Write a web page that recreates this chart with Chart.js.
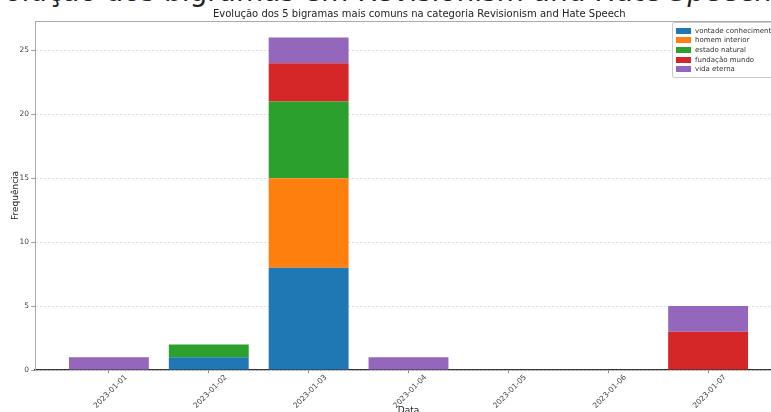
<!DOCTYPE html>
<html>
<head>
<meta charset="utf-8">
<script src="https://cdn.jsdelivr.net/npm/chart.js@4.4.1/dist/chart.umd.min.js"></script>
<style>
    body { margin: 0; width: 771px; height: 412px; overflow: hidden; position: relative; background: #fff; }
    #cabecera { position: absolute; left: -30px; top: -22px; font-family: "DejaVu Sans"; font-size: 28px; line-height: 28px; white-space: nowrap; color: #222; }
    #titulo { position: absolute; left: 213px; width: 400px; top: 8px; text-align: center; white-space: nowrap; font-family: "DejaVu Sans"; font-size: 10px; line-height: 12px; color: #222; }
    #marco { position: absolute; left: 0; top: 0; width: 826px; height: 418px; }
    #leyenda { position: absolute; left: 672px; top: 22px; width: 116px; padding: 3px 3px; border: 1px solid #ccc; border-radius: 2px; background: rgba(255,255,255,0.85); font-family: "DejaVu Sans"; font-size: 7px; color: #333; }
    .item { display: flex; align-items: center; height: 9.6px; white-space: nowrap; }
    .caja { width: 15px; height: 6px; margin-right: 4px; flex: none; }
</style>
</head>
<body>
<div id="cabecera">Evolução dos bigramas em Revisionism and Hate <i>Speech</i></div>
<div id="marco"><canvas id="grafico"></canvas></div>
<div id="titulo">Evolução dos 5 bigramas mais comuns na categoria Revisionism and Hate Speech</div>
<div id="leyenda"></div>
<script>
// Datos
const fechas = ["2023-01-01", "2023-01-02", "2023-01-03", "2023-01-04", "2023-01-05", "2023-01-06", "2023-01-07"];
const bigramas = ["vontade conhecimento", "homem interior", "estado natural", "fundação mundo", "vida eterna"];
const vontadeConhecimento = [0, 1, 8, 0, 0, 0, 0];
const homemInterior = [0, 0, 7, 0, 0, 0, 0];
const estadoNatural = [0, 1, 6, 0, 0, 0, 0];
const fundacaoMundo = [0, 0, 3, 0, 0, 0, 3];
const vidaEterna = [1, 0, 2, 1, 0, 0, 2];
const ticksY = [0, 5, 10, 15, 20, 25];

const series = [vontadeConhecimento, homemInterior, estadoNatural, fundacaoMundo, vidaEterna];
const colores = ["#1f77b4", "#ff7f0e", "#2ca02c", "#d62728", "#9467bd"];

Chart.defaults.font.family = "DejaVu Sans";
Chart.defaults.color = "#333";

// Línea superior del área del gráfico
const bordeSuperior = {
    id: "bordeSuperior",
    afterDraw(chart) {
        const { ctx, chartArea } = chart;
        ctx.save();
        ctx.strokeStyle = "#aaa";
        ctx.lineWidth = 1;
        ctx.beginPath();
        ctx.moveTo(chartArea.left, chartArea.top + 0.5);
        ctx.lineTo(chartArea.right, chartArea.top + 0.5);
        ctx.stroke();
        ctx.restore();
    }
};

new Chart(document.getElementById("grafico"), {
    type: "bar",
    data: {
        datasets: bigramas.map((nombre, i) => ({
            label: nombre,
            data: series[i].map((v, j) => ({ x: j, y: v })),
            backgroundColor: colores[i],
            borderWidth: 0,
            barPercentage: 0.8,
            categoryPercentage: 1
        }))
    },
    options: {
        responsive: true,
        maintainAspectRatio: false,
        animation: false,
        layout: { padding: { left: 0, right: 44, top: 21, bottom: 0 } },
        plugins: {
            legend: { display: false },
            tooltip: { enabled: false },
            title: { display: false }
        },
        scales: {
            x: {
                type: "linear",
                stacked: true,
                offset: false,
                min: -0.74,
                max: 6.74,
                afterBuildTicks: (scale) => { scale.ticks = fechas.map((f, i) => ({ value: i })); },
                afterFit: (scale) => { scale.height = 48; },
                ticks: {
                    callback: (v) => fechas[v],
                    font: { size: 7.5 },
                    color: "#444",
                    minRotation: 45,
                    maxRotation: 45,
                    labelOffset: 17,
                    padding: 0,
                    autoSkip: false
                },
                grid: { offset: false, drawOnChartArea: false, drawTicks: true, tickLength: 3, tickColor: "#888" },
                border: { color: "#333", width: 1.2 },
                title: { display: true, text: "Data", font: { size: 9 }, color: "#222", padding: { top: 0, bottom: 2 } }
            },
            y: {
                stacked: true,
                min: 0,
                max: 27.3,
                afterBuildTicks: (scale) => { scale.ticks = ticksY.map((v) => ({ value: v })); },
                afterFit: (scale) => { scale.width = 35; },
                ticks: { font: { size: 7.5 }, color: "#444", padding: 2 },
                grid: { color: "#d8d8d8", lineWidth: 0.8, tickLength: 4, tickColor: "#888", tickBorderDash: [] },
                border: { color: "#aaa", width: 1, dash: [2, 2] },
                title: { display: true, text: "Frequência", font: { size: 9 }, color: "#222", padding: { top: 10, bottom: 0 } }
            }
        }
    },
    plugins: [bordeSuperior]
});

// Leyenda
const leyenda = document.getElementById("leyenda");
bigramas.forEach((nombre, i) => {
    const fila = document.createElement("div");
    fila.className = "item";
    fila.innerHTML = `<span class="caja" style="background:${colores[i]}"></span><span>${nombre}</span>`;
    leyenda.appendChild(fila);
});
</script>
</body>
</html>
